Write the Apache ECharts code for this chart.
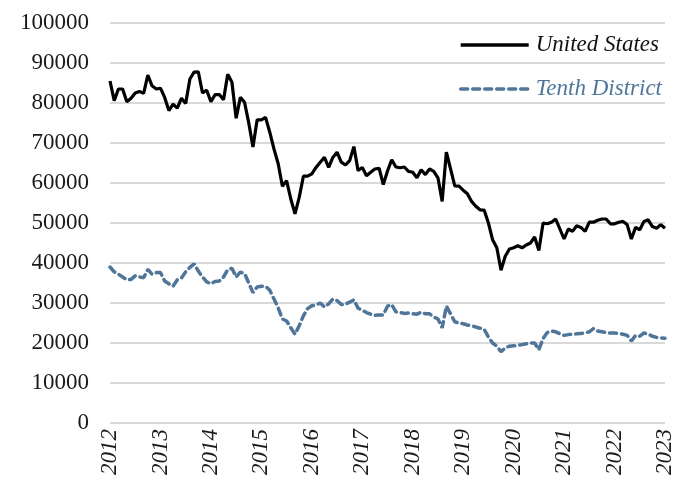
<!DOCTYPE html>
<html>
<head>
<meta charset="utf-8">
<script src="https://cdn.jsdelivr.net/npm/echarts@6/dist/echarts.min.js"></script>
<style>
  html, body { margin: 0; padding: 0; background: #ffffff; }
  #chart { width: 681px; height: 487px; }
</style>
</head>
<body>
<div id="chart"></div>
<script>
// Monthly values, January 2012 through January 2023
const yearLabels = ['2012','2013','2014','2015','2016','2017','2018','2019','2020','2021','2022','2023'];

const unitedStates = [
  85500, 80600, 83500, 83500, 80300, 81200, 82500, 82900, 82400, 87000, 84300, 83500,
  83700, 81400, 78100, 79700, 78700, 81200, 79900, 86000, 87700, 87800, 82500, 83200,
  80300, 82100, 82100, 80800, 87200, 85200, 76200, 81400, 80200, 75000, 69000, 75800,
  75800, 76400, 72700, 68500, 64800, 59200, 60600, 56000, 52300, 56400, 61700, 61700,
  62300, 63900, 65200, 66400, 63900, 66400, 67700, 65200, 64500, 65600, 69100, 63100,
  63900, 61800, 62700, 63500, 63700, 59600, 63000, 65800, 64000, 63800, 64000, 62900,
  62700, 61300, 63300, 62100, 63500, 62900, 61300, 55400, 67700, 63500, 59300, 59200,
  58200, 57300, 55400, 54200, 53300, 53200, 50000, 45800, 43800, 38200, 41700, 43500,
  43800, 44300, 43800, 44500, 45000, 46500, 43100, 50000, 49800, 50200, 51000, 48500,
  46000, 48500, 47900, 49300, 48900, 47900, 50200, 50200, 50700, 51000, 51000, 49800,
  49800, 50200, 50400, 49600, 46000, 48900, 48300, 50400, 50800, 49100, 48700, 49600,
  48700
];

const tenthDistrict = [
  39000, 37800, 37200, 36500, 35800, 35900, 36800, 36500, 36300, 38400, 37200, 37600,
  37600, 35500, 34800, 34200, 35800, 36300, 37800, 38900, 39800, 38000, 36500, 35300,
  34800, 35400, 35500, 36500, 38300, 38700, 36500, 37700, 37400, 35000, 32600, 34000,
  34200, 34200, 33200, 31000, 28800, 26000, 25500, 23800, 22200, 24300, 26800, 28600,
  29300, 29500, 30000, 29000, 29800, 31000, 30600, 29600, 29700, 30200, 30800, 28700,
  28200, 27600, 27200, 26900, 27000, 27000, 29200, 29600, 27800, 27600, 27400, 27500,
  27300, 27200, 27700, 27300, 27300, 26500, 26000, 23800, 29200, 27300, 25300, 25000,
  24800, 24500, 24300, 24000, 23700, 23400, 21500, 20000, 19200, 17800, 18800, 19200,
  19300, 19400, 19600, 19800, 20000, 20000, 18300, 21100, 22600, 23000, 22800, 22300,
  21900, 22100, 22200, 22300, 22400, 22500, 22800, 23600, 23000, 22800, 22600, 22500,
  22500, 22400, 22200, 21900, 20500, 21900, 21700, 22500, 22200, 21700, 21400, 21300,
  21200
];

// One category per month; only January carries a year label
const months = [];
yearLabels.forEach(function (y, k) {
  const count = k === yearLabels.length - 1 ? 1 : 12;
  for (let m = 1; m <= count; m++) months.push(y + '-' + String(m).padStart(2, '0'));
});

const blue = '#4f7699';
const serif = '"Liberation Serif", "Times New Roman", serif';

const chart = echarts.init(document.getElementById('chart'), null, { renderer: 'canvas' });
chart.setOption({
  animation: false,
  backgroundColor: '#ffffff',
  textStyle: { fontFamily: serif },
  grid: { left: 110, right: 16, top: 23, bottom: 64, containLabel: false },
  legend: {
    orient: 'vertical',
    right: 14,
    top: 27,
    itemWidth: 68,
    itemHeight: 14,
    itemGap: 18,
    itemStyle: { opacity: 0 },
    lineStyle: { width: 3.5 },
    data: [
      { name: 'United States', textStyle: { color: '#111111' } },
      { name: 'Tenth District', textStyle: { color: blue } }
    ],
    textStyle: { fontFamily: serif, fontSize: 23, fontStyle: 'italic', lineHeight: 26, padding: [0, 0, 0, 2] }
  },
  xAxis: {
    type: 'category',
    data: months,
    boundaryGap: false,
    axisLine: { show: false },
    axisTick: { show: false },
    splitLine: { show: false },
    axisLabel: {
      interval: 11,
      rotate: 90,
      margin: 6,
      fontFamily: serif,
      fontSize: 23,
      fontStyle: 'italic',
      color: '#1a1a1a',
      formatter: function (v) { return v.slice(0, 4); }
    }
  },
  yAxis: {
    type: 'value',
    min: 0,
    max: 100000,
    interval: 10000,
    axisLine: { show: false },
    axisTick: { show: false },
    splitLine: { show: true, lineStyle: { color: '#d9d9d9', width: 2 } },
    axisLabel: {
      margin: 21,
      fontFamily: serif,
      fontSize: 23,
      color: '#1a1a1a',
      formatter: function (v) { return String(v); }
    }
  },
  series: [
    {
      name: 'United States',
      type: 'line',
      data: unitedStates,
      symbol: 'none',
      lineStyle: { color: '#000000', width: 3.2 },
      itemStyle: { color: '#000000' }
    },
    {
      name: 'Tenth District',
      type: 'line',
      data: tenthDistrict,
      symbol: 'none',
      lineStyle: { color: blue, width: 3.5, type: [7, 5], cap: 'round' },
      itemStyle: { color: blue }
    }
  ]
});
</script>
</body>
</html>
